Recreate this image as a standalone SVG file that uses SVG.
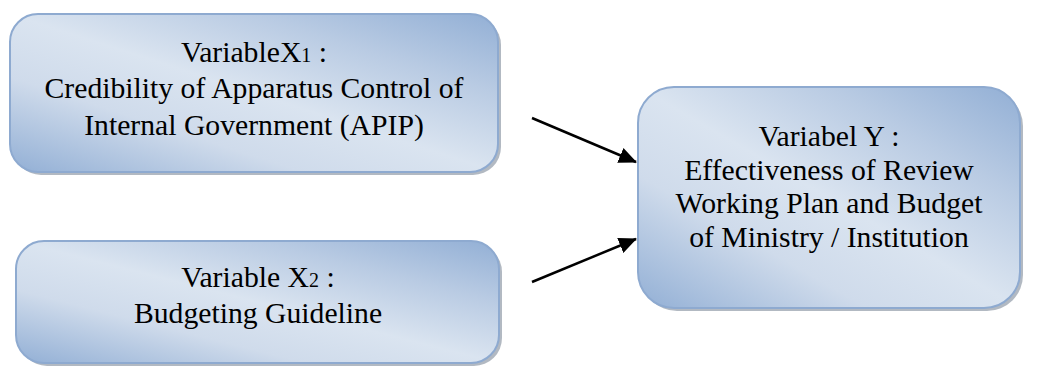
<svg xmlns="http://www.w3.org/2000/svg" width="1037" height="368" viewBox="0 0 1037 368">
<defs>
<linearGradient id="g" x1="0" y1="1" x2="1" y2="0">
<stop offset="0" stop-color="#92afd5"/>
<stop offset="0.3" stop-color="#cfdbeb"/>
<stop offset="0.5" stop-color="#dae4f0"/>
<stop offset="0.75" stop-color="#b9cbe3"/>
<stop offset="1" stop-color="#92afd5"/>
</linearGradient>
<marker id="ah" viewBox="0 0 18 16" refX="17" refY="8" markerWidth="18" markerHeight="16" markerUnits="userSpaceOnUse" orient="auto">
<path d="M0,0 L18,8 L0,16 z" fill="#000"/>
</marker>
</defs>
<style>
.box{fill:url(#g);stroke:#8eaad0;stroke-width:2}
.sh{fill:#7f8a99;opacity:0.6}
.t{font-family:"Liberation Serif","Times New Roman",serif;font-size:29.7px;fill:#000;text-anchor:middle}
.sub{font-size:20px}
.c{stroke:#000;stroke-width:2.5;fill:none}
</style>
<g id="node-x1">
<rect class="sh" x="13" y="17" width="488" height="158" rx="28"/>
<rect class="box" x="10" y="14" width="488" height="158" rx="28"/>
<text class="t" x="254" y="62">VariableX<tspan class="sub">1</tspan> :</text>
<text class="t" x="254" y="98">Credibility of Apparatus Control of</text>
<text class="t" x="254" y="135">Internal Government (APIP)</text>
</g>
<g id="node-x2">
<rect class="sh" x="19" y="244" width="483" height="122" rx="28"/>
<rect class="box" x="16" y="241" width="483" height="122" rx="28"/>
<text class="t" x="258" y="287">Variable X<tspan class="sub">2</tspan> :</text>
<text class="t" x="258" y="323">Budgeting Guideline</text>
</g>
<g id="node-y">
<rect class="sh" x="641" y="90" width="382" height="221" rx="36"/>
<rect class="box" x="638" y="87" width="382" height="221" rx="36"/>
<text class="t" x="829" y="146">Variabel Y :</text>
<text class="t" x="829" y="180">Effectiveness of Review</text>
<text class="t" x="829" y="213">Working Plan and Budget</text>
<text class="t" x="829" y="247">of Ministry / Institution</text>
</g>
<g id="connectors">
<line class="c" x1="532" y1="118" x2="636" y2="162" marker-end="url(#ah)"/>
<line class="c" x1="532" y1="282" x2="636" y2="239" marker-end="url(#ah)"/>
</g>
</svg>
